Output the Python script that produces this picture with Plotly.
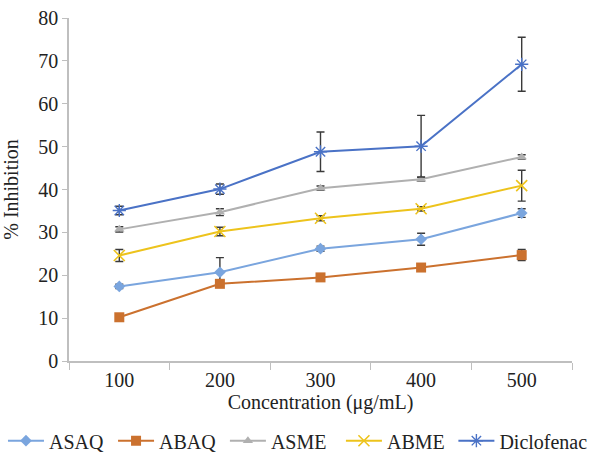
import plotly.graph_objects as go

concentrations = ["100", "200", "300", "400", "500"]

asaq = [17.4, 20.7, 26.2, 28.4, 34.5]
asaq_err = [0.5, 3.4, 0.6, 1.4, 1.0]
abaq = [10.2, 18.0, 19.5, 21.8, 24.7]
abaq_err = [0.4, 0.5, 0.4, 0.5, 1.3]
asme = [30.7, 34.7, 40.3, 42.4, 47.6]
asme_err = [0.6, 0.8, 0.5, 0.4, 0.5]
abme = [24.6, 30.2, 33.3, 35.5, 40.9]
abme_err = [1.4, 1.0, 0.6, 0.5, 3.6]
diclofenac = [35.1, 40.1, 48.8, 50.1, 69.2]
diclofenac_err = [1.0, 1.2, 4.6, 7.2, 6.3]

series = [
    ("ASAQ", asaq, asaq_err, "#7AA5DE", "diamond", 9, 0),
    ("ABAQ", abaq, abaq_err, "#CB712E", "square", 10, 0),
    ("ASME", asme, asme_err, "#B0B0B0", "triangle-up", 9, 0),
    ("ABME", abme, abme_err, "#EDC31C", "x-thin-open", 11, 1.6),
    ("Diclofenac", diclofenac, diclofenac_err, "#4A72C6", "asterisk-open", 11, 1.4),
]

# left edge of each legend entry (container fraction)
legend_x = [0.005, 0.19, 0.378, 0.573, 0.762]

FF = "Liberation Serif"
TXT = "#222222"

fig = go.Figure()
legend_layouts = {}
for i, (name, vals, errs, color, sym, size, lw) in enumerate(series):
    marker = dict(symbol=sym, size=size, color=color)
    if lw:
        marker["line"] = dict(color=color, width=lw)
    lg = "legend" if i == 0 else f"legend{i + 1}"
    fig.add_trace(go.Scatter(
        x=concentrations, y=vals, name=name, mode="lines+markers",
        line=dict(color=color, width=2),
        marker=marker, legend=lg,
        error_y=dict(type="data", array=errs, visible=True,
                     color="#3A3A3A", thickness=1.4, width=4),
    ))
    legend_layouts[lg] = dict(
        orientation="h", xref="container", yref="container",
        x=legend_x[i], xanchor="left", y=0.025, yanchor="middle",
        font=dict(family=FF, size=20, color=TXT), itemwidth=36,
        bgcolor="rgba(0,0,0,0)", borderwidth=0,
    )

fig.update_layout(
    width=595, height=452,
    margin=dict(l=69, r=23, t=18, b=91, autoexpand=False),
    paper_bgcolor="white", plot_bgcolor="white",
    font=dict(family=FF, size=20, color=TXT),
    showlegend=True,
    xaxis=dict(
        type="category", range=[-0.5, 4.5], automargin=True,
        tickson="boundaries", ticks="outside", ticklen=7, tickcolor="#BFBFBF",
        tickfont=dict(family=FF, size=20, color=TXT),
        showline=True, linecolor="#BFBFBF", linewidth=1.5,
        showgrid=False, zeroline=False,
        title=dict(text="Concentration (μg/mL)", standoff=1,
                   font=dict(family=FF, size=20, color=TXT)),
    ),
    yaxis=dict(
        range=[0, 80], dtick=10, ticks="outside", ticklen=5, tickcolor="#BFBFBF",
        tickfont=dict(family=FF, size=20, color=TXT),
        showline=True, linecolor="#BFBFBF", linewidth=1.5, automargin=True,
        showgrid=False, zeroline=False,
        title=dict(text="% Inhibition", standoff=17,
                   font=dict(family=FF, size=20, color=TXT)),
    ),
    **legend_layouts,
)

fig.write_html("out.html", config={"displayModeBar": False},
               post_script="document.body.style.margin='0';document.body.style.padding='0';")
